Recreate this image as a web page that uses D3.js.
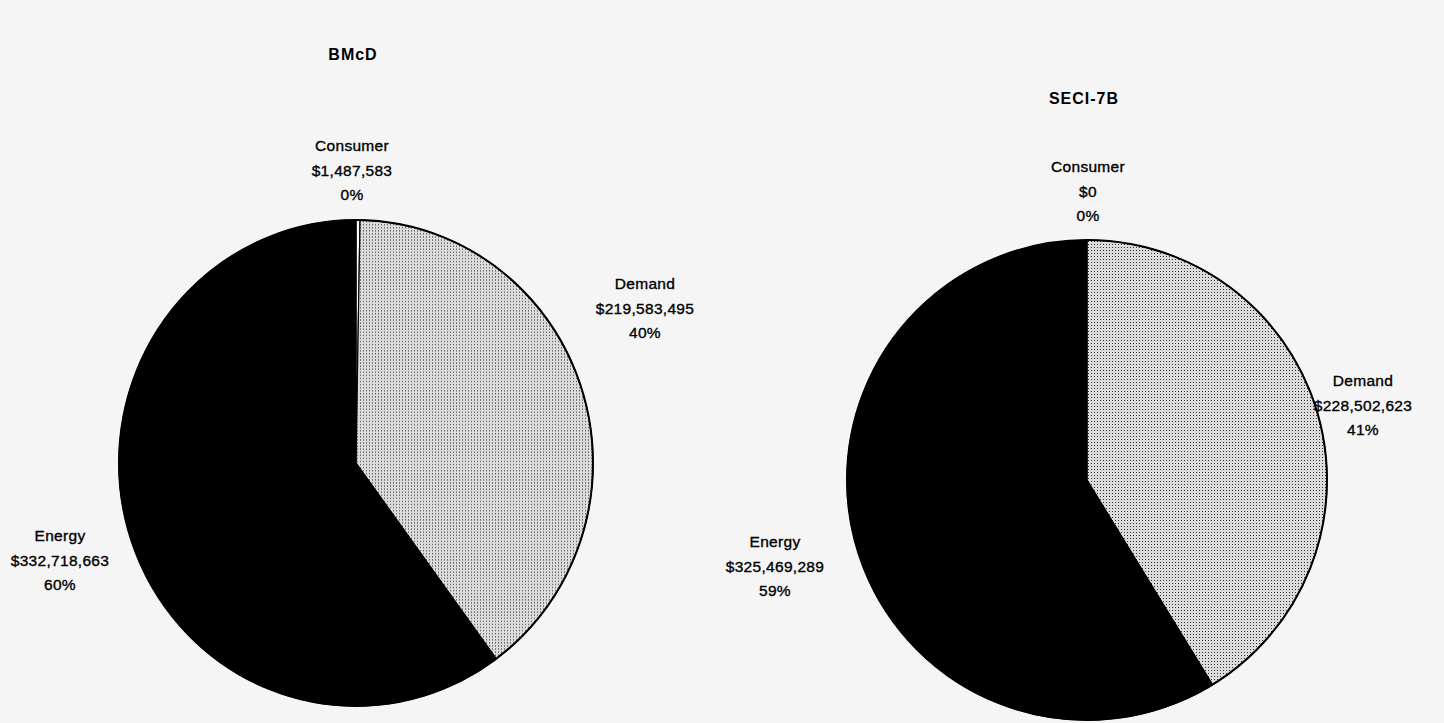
<!DOCTYPE html>
<html>
<head>
<meta charset="utf-8">
<script src="https://cdn.jsdelivr.net/npm/d3@7"></script>
<style>
  html, body { margin: 0; padding: 0; background: #f5f5f5; }
  svg { display: block; }
  text { font-family: "Liberation Sans", Arial, sans-serif; fill: #000; }
</style>
</head>
<body>
<svg id="chart" width="1444" height="723"></svg>
<script>
const categories = ["Consumer", "Demand", "Energy"];
const bmcdValues = [1487583, 219583495, 332718663];
const seciValues = [0, 228502623, 325469289];
const chartTitles = ["BMcD", "SECI-7B"];

const svg = d3.select("#chart");
const defs = svg.append("defs");
const pat = defs.append("pattern")
  .attr("id", "dots").attr("patternUnits", "userSpaceOnUse")
  .attr("width", 3).attr("height", 3);
pat.append("rect").attr("width", 3).attr("height", 3).attr("fill", "#dcdcdc");
pat.append("rect").attr("x", 1).attr("y", 1).attr("width", 1).attr("height", 1).attr("fill", "#303030");

const fills = { Consumer: "#ffffff", Demand: "url(#dots)", Energy: "#000000" };

const pies = [
  { title: chartTitles[0], values: bmcdValues, cx: 356, cy: 463, r: 237, sy: 1.025, titleY: 60,
    labels: { Consumer: [352, 151], Demand: [645, 289], Energy: [60, 541] } },
  { title: chartTitles[1], values: seciValues, cx: 1087, cy: 480, r: 240, sy: 1.0, titleY: 104,
    labels: { Consumer: [1088, 172], Demand: [1363, 386], Energy: [775, 547] } }
];

const fmt = d3.format(",");
const pie = d3.pie().sort(null).value(d => d.value).startAngle(0).endAngle(2 * Math.PI);

pies.forEach(p => {
  const data = categories.map((c, i) => ({ cat: c, value: p.values[i] }));
  const total = d3.sum(p.values);
  const arc = d3.arc().innerRadius(0).outerRadius(p.r);
  const g = svg.append("g").attr("transform", `translate(${p.cx},${p.cy}) scale(1,${p.sy})`);
  g.selectAll("path").data(pie(data)).join("path")
    .attr("d", arc)
    .attr("fill", d => fills[d.data.cat])
    .attr("stroke", "#000")
    .attr("stroke-width", 1.2)
    .attr("vector-effect", "non-scaling-stroke");
  g.append("ellipse").attr("rx", p.r).attr("ry", p.r).attr("fill", "none")
    .attr("stroke", "#000").attr("stroke-width", 2).attr("vector-effect", "non-scaling-stroke");

  svg.append("text").attr("x", p.cx - 3).attr("y", p.titleY)
    .attr("text-anchor", "middle").attr("font-size", 16).attr("font-weight", "bold")
    .attr("letter-spacing", 1).text(p.title);

  data.forEach(d => {
    const [x, y] = p.labels[d.cat];
    const t = svg.append("text").attr("text-anchor", "middle").attr("font-size", 15.5)
      .attr("letter-spacing", 0.3)
      .attr("stroke", "#000").attr("stroke-width", 0.35);
    const lines = [d.cat, "$" + fmt(d.value), Math.round(d.value / total * 100) + "%"];
    lines.forEach((ln, i) => {
      t.append("tspan").attr("x", x).attr("y", y + i * 24.5).text(ln);
    });
  });
});
</script>
</body>
</html>
